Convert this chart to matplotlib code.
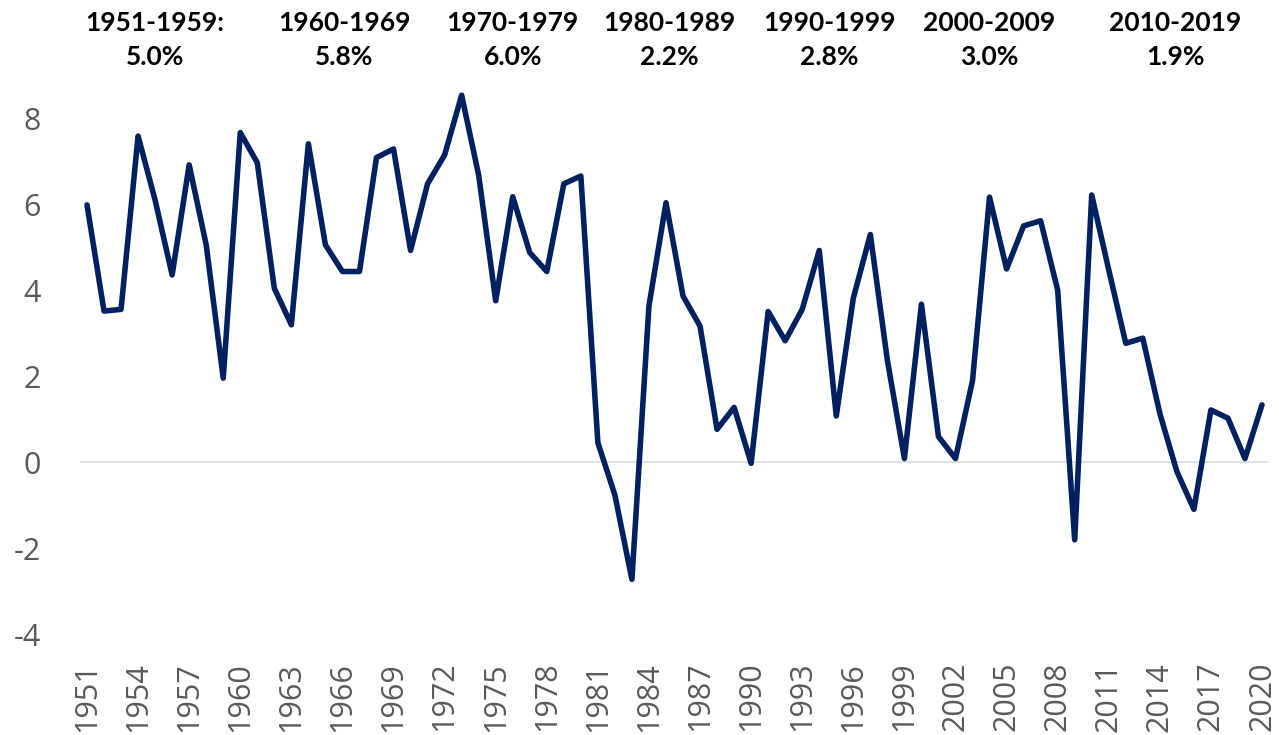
import matplotlib
matplotlib.use("Agg")
import matplotlib.pyplot as plt
import matplotlib.transforms as mtransforms

years = list(range(1951, 2021))
growth = [5.98, 3.51, 3.55, 7.58, 6.09, 4.35, 6.91, 5.05, 1.95,
          7.66, 6.96, 4.04, 3.19, 7.40, 5.05, 4.43, 4.43, 7.08, 7.28,
          4.92, 6.47, 7.14, 8.53, 6.67, 3.75, 6.17, 4.87, 4.43, 6.47,
          6.65, 0.45, -0.77, -2.73, 3.63, 6.03, 3.86, 3.16, 0.76, 1.27,
          -0.03, 3.50, 2.82, 3.55, 4.92, 1.07, 3.81, 5.29, 2.37, 0.08,
          3.67, 0.59, 0.08, 1.89, 6.16, 4.49, 5.49, 5.61, 4.00, -1.81,
          6.21, 4.47, 2.76, 2.88, 1.13, -0.22, -1.10, 1.21, 1.02, 0.08,
          1.33]

decade_labels = ["1951-1959:\n5.0%", "1960-1969\n5.8%", "1970-1979\n6.0%",
                 "1980-1989\n2.2%", "1990-1999\n2.8%", "2000-2009\n3.0%",
                 "2010-2019\n1.9%"]
decade_centers = [1955.0, 1966.1, 1976.0, 1985.2, 1994.6, 2004.0, 2014.9]

x_ticks = list(range(1951, 2021, 3))
y_ticks = [-4, -2, 0, 2, 4, 6, 8]

W, H = 1279, 735
fig = plt.figure(figsize=(W / 100, H / 100), dpi=100)
left_px, right_px = 80, 1268
top_px, bottom_px = 75, 634
ax = fig.add_axes([left_px / W, (H - bottom_px) / H,
                   (right_px - left_px) / W, (bottom_px - top_px) / H])

# x-limits so that 1951 -> px 87 and 2020 -> px 1262
ppy = (1262 - 87) / (2020 - 1951)
x0 = 1951 - (87 - left_px) / ppy
x1 = 2020 + (right_px - 1262) / ppy
ax.set_xlim(x0, x1)
ax.set_ylim(-4, 9)

ax.axhline(0, color="#d9d9d9", lw=1.2, zorder=1)
ax.plot(years, growth, color="#002060", lw=4.0, solid_joinstyle="round",
        solid_capstyle="round", zorder=3)

for s in ax.spines.values():
    s.set_visible(False)

ax.set_yticks(y_ticks)
ax.set_yticklabels([str(v) for v in y_ticks])
ax.set_xticks(x_ticks)
ax.set_xticklabels([str(v) for v in x_ticks], rotation=90)
ax.tick_params(axis="y", length=0, pad=28, labelsize=22, labelcolor="#595959")
ax.tick_params(axis="x", length=0, pad=20, labelsize=22, labelcolor="#595959")
for lab in ax.get_xticklabels() + ax.get_yticklabels():
    lab.set_fontfamily("Open Sans")
for lab in ax.get_xticklabels():
    lab.set_verticalalignment("top")

trans = mtransforms.blended_transform_factory(ax.transData, fig.transFigure)
for xc, txt in zip(decade_centers, decade_labels):
    ax.text(xc, 1 - 40 / H, txt, transform=trans, ha="center", va="center",
            fontsize=19, fontweight="bold", family="Lato", color="black",
            linespacing=1.5)

fig.savefig("out.png", dpi=100)
